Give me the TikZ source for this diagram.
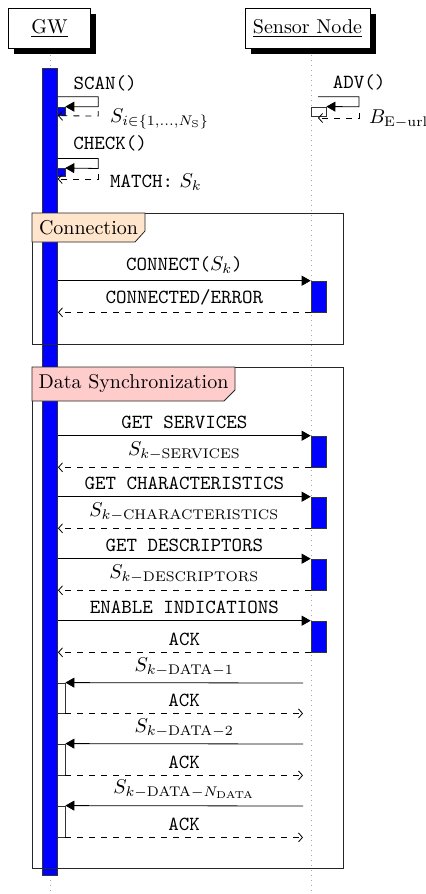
\documentclass[tikz,border=0pt]{standalone}
\usetikzlibrary{arrows.meta,shadows,calc}
\begin{document}
\begin{tikzpicture}[x=0.5pt,y=-0.5pt,
  headbox/.style={draw, fill=white, line width=0.5pt, inner sep=0, minimum height=20pt,
    drop shadow={shadow xshift=2.8pt, shadow yshift=-2.8pt, fill=black, opacity=1}},
  lifeline/.style={draw=gray!70, dotted, line width=0.5pt},
  act/.style={draw=black!80, fill=blue, line width=0.3pt, inner sep=0, minimum width=7.5pt},
  nact/.style={draw=black!80, fill=white, line width=0.4pt, inner sep=0, minimum width=7.5pt},
  callarr/.style={-{Triangle[length=4.5pt,width=5pt]}, line width=0.4pt},
  retarr/.style={dashed, -{Straight Barb[length=2pt,width=4.5pt]}, line width=0.4pt},
  frame/.style={draw=black!85, line width=0.4pt},
  lbl/.style={font=\ttfamily},
]
\useasboundingbox (0,0) rectangle (425,894);

% lifelines
\coordinate (gwend) at (50,894);
\coordinate (snend) at (311,894);
\coordinate (gwtop) at (50,50);
\coordinate (sntop) at (311,50);
\draw[lifeline] (gwtop) -- (gwend);
\draw[lifeline] (sntop) -- (snend);

% headers
\node[headbox, minimum width=41pt] (gw) at (49.5,28.3) {\underline{GW}};
\node[headbox, minimum width=62.5pt] (sn) at (307.5,28.3) {\underline{Sensor Node}};

% nested activations (behind main bar)
\node[act, minimum height=4.25pt] (scanact) at (57.5,111.2) {};
\node[act, minimum height=4.2pt] (checkact) at (57.5,172.5) {};
\node[nact, minimum height=4.5pt] (advact) at (318.5,111.5) {};
\node[nact, minimum height=15pt] (d1act) at (57.5,698) {};
\node[nact, minimum height=15.5pt] (d2act) at (57.5,759.5) {};
\node[nact, minimum height=15.5pt] (d3act) at (57.5,821.5) {};

% main GW bar
\node[act, minimum width=7.7pt, minimum height=403.5pt] (gwbar) at (50,471.5) {};

% frames
\draw[frame] (32,213) rectangle (343,344);
\filldraw[frame, fill=orange!20] (32,213) -- (145,213) -- (145,231) -- (135,242) -- (32,242) -- cycle;
\node (connlbl) at (88.5,228) {Connection};

\draw[frame] (32,367) rectangle (343,868);
\filldraw[frame, fill=red!20] (32,367) -- (235,367) -- (235,390) -- (224,401) -- (32,401) -- cycle;
\node (dslbl) at (133.5,383) {Data Synchronization};

% sensor activations
\node[act, minimum height=15.5pt] (a1) at (318.5,296.5) {};
\node[act, minimum height=15.5pt] (a2) at (318.5,451.5) {};
\node[act, minimum height=15.5pt] (a3) at (318.5,512.5) {};
\node[act, minimum height=15.5pt] (a4) at (318.5,574.5) {};
\node[act, minimum height=15.5pt] (a5) at (318.5,636.5) {};

% self calls
\coordinate (scan0) at (57.7,96.7);
\coordinate (scanret) at (98.3,111);
\draw[callarr] (scan0) -- ++(40.6,0) -- ++(0,10) -- (scanact.north east);
\draw[retarr] (scanret) -- ++(0,5) -- (gwbar.east |- scanact.south);
\node[lbl] (scanl) at (105,83) {SCAN()};
\node[anchor=west] (sil) at (103,119) {$S_{i\in\{1,\ldots,N_{\mathrm{S}}\}}$};

\coordinate (check0) at (57.7,158.5);
\coordinate (checkret) at (98.3,174);
\draw[callarr] (check0) -- ++(40.6,0) -- ++(0,10) -- (checkact.north east);
\draw[retarr] (checkret) -- ++(0,5) -- (57.7,179);
\node[lbl] (checkl) at (110,143) {CHECK()};
\node[anchor=west] (matchl) at (103,182) {\texttt{MATCH:} $S_k$};

\coordinate (adv0) at (318,96.7);
\coordinate (advret) at (359,113);
\draw[callarr] (adv0) -- ++(41,0) -- ++(0,10) -- (advact.north east);
\draw[retarr] (advret) -- ++(0,5) -- (318,118);
\node[lbl] (advl) at (359,82) {ADV()};
\node[anchor=west] (bl) at (362,119) {$B_{\mathrm{E}-\mathrm{url}}$};

% connection
\draw[callarr] (gwbar.east |- a1.north) -- node[above] {\texttt{CONNECT(}$S_k$\texttt{)}} (a1.north west);
\draw[retarr] (a1.south west) -- node[above] {\texttt{CONNECTED/ERROR}} (gwbar.east |- a1.south);

% data synchronization
\draw[callarr] (gwbar.east |- a2.north) -- node[above] {\texttt{GET SERVICES}} (a2.north west);
\draw[retarr] (a2.south west) -- node[above] {$S_{k-\mathrm{SERVICES}}$} (gwbar.east |- a2.south);

\draw[callarr] (gwbar.east |- a3.north) -- node[above] {\texttt{GET CHARACTERISTICS}} (a3.north west);
\draw[retarr] (a3.south west) -- node[above] {$S_{k-\mathrm{CHARACTERISTICS}}$} (gwbar.east |- a3.south);

\draw[callarr] (gwbar.east |- a4.north) -- node[above] {\texttt{GET DESCRIPTORS}} (a4.north west);
\draw[retarr] (a4.south west) -- node[above] {$S_{k-\mathrm{DESCRIPTORS}}$} (gwbar.east |- a4.south);

\draw[callarr] (gwbar.east |- a5.north) -- node[above] {\texttt{ENABLE INDICATIONS}} (a5.north west);
\draw[retarr] (a5.south west) -- node[above] {\texttt{ACK}} (gwbar.east |- a5.south);

\coordinate (s1) at (303,683);
\coordinate (s2) at (303,744);
\coordinate (s3) at (303,806);
\draw[callarr] (s1) -- node[above] {$S_{k-\mathrm{DATA}-1}$} (d1act.north east);
\draw[retarr] (d1act.south east) -- node[above] {\texttt{ACK}} (s1 |- d1act.south);
\draw[callarr] (s2) -- node[above] {$S_{k-\mathrm{DATA}-2}$} (d2act.north east);
\draw[retarr] (d2act.south east) -- node[above] {\texttt{ACK}} (s2 |- d2act.south);
\draw[callarr] (s3) -- node[above] {$S_{k-\mathrm{DATA}-N_{\mathrm{DATA}}}$} (d3act.north east);
\draw[retarr] (d3act.south east) -- node[above] {\texttt{ACK}} (s3 |- d3act.south);
\end{tikzpicture}
\end{document}
